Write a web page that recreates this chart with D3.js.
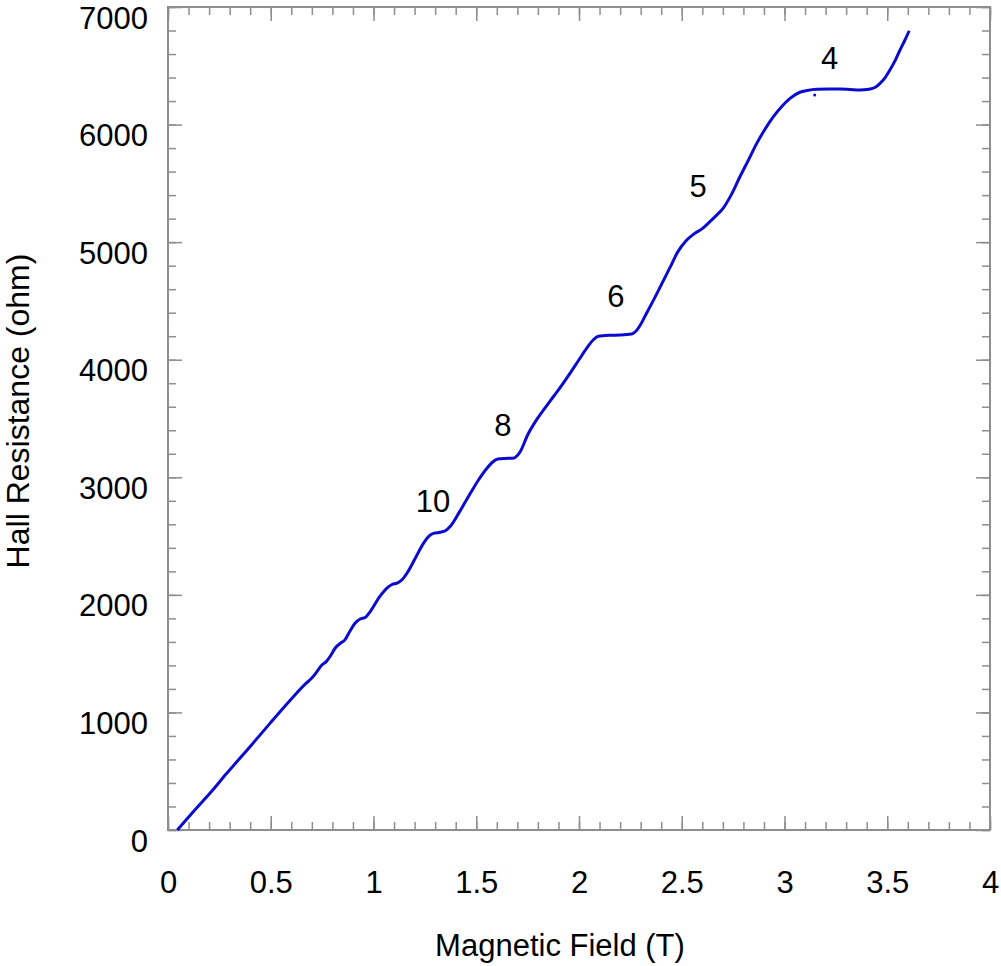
<!DOCTYPE html>
<html>
<head>
<meta charset="utf-8">
<script src="https://cdn.jsdelivr.net/npm/d3@7"></script>
<style>
  html, body { margin: 0; padding: 0; background: #fff; }
  svg { display: block; font-family: "Liberation Sans", Arial, sans-serif; }
</style>
</head>
<body>
<svg width="1001" height="966"></svg>
<script>
// Hall resistance vs magnetic field
const field = [
  0.045, 0.123, 0.204, 0.286, 0.399, 0.496, 0.610, 0.670, 0.700, 0.724,
  0.750, 0.770, 0.790, 0.815, 0.840, 0.860, 0.885, 0.910, 0.935, 0.960,
  0.985, 1.030, 1.064, 1.090, 1.115, 1.140, 1.165, 1.200, 1.243, 1.270,
  1.295, 1.324, 1.350, 1.375, 1.420, 1.470, 1.510, 1.551, 1.580, 1.605,
  1.640, 1.680, 1.700, 1.713, 1.750, 1.794, 1.835, 1.875, 1.915, 1.956,
  2.000, 2.037, 2.070, 2.094, 2.150, 2.200, 2.256, 2.275, 2.300, 2.330,
  2.362, 2.410, 2.443, 2.480, 2.520, 2.560, 2.600, 2.637, 2.670, 2.702,
  2.740, 2.783, 2.825, 2.865, 2.905, 2.946, 2.990, 3.027, 3.075, 3.110,
  3.157, 3.220, 3.270, 3.320, 3.367, 3.410, 3.440, 3.465, 3.490, 3.513,
  3.540, 3.562, 3.585, 3.607
];
const resistance = [
  0, 156, 312, 482, 708, 907, 1134, 1245, 1292, 1345,
  1405, 1432, 1480, 1550, 1590, 1615, 1690, 1758, 1795, 1808,
  1860, 1985, 2056, 2088, 2100, 2130, 2190, 2300, 2438, 2500,
  2525, 2532, 2545, 2585, 2710, 2860, 2975, 3075, 3130, 3155,
  3160, 3162, 3185, 3215, 3360, 3490, 3590, 3685, 3780, 3884,
  4000, 4097, 4170, 4200, 4208, 4210, 4218, 4240, 4300, 4400,
  4505, 4670, 4785, 4915, 5010, 5070, 5115, 5174, 5230, 5290,
  5400, 5556, 5700, 5840, 5960, 6067, 6160, 6223, 6275, 6290,
  6300, 6302, 6302, 6298, 6294, 6300, 6315, 6351, 6400, 6464,
  6550, 6634, 6715, 6798
];
// one stray point below the 4 plateau
const strayField = [3.147];
const strayResistance = [6251];

// filling factor labels
const nuLabels = ["10", "8", "6", "5", "4"];
const nuField = [1.29, 1.63, 2.18, 2.58, 3.22];
const nuResistance = [2705, 3355, 4448, 5384, 6472];

const xTicks = [0, 0.5, 1, 1.5, 2, 2.5, 3, 3.5, 4];
const yTicks = [0, 1000, 2000, 3000, 4000, 5000, 6000, 7000];

const svg = d3.select('svg');
const plotL = 168, plotR = 990, plotT = 7, plotB = 830;
const axisColor = '#8e8e8e';

const x = d3.scaleLinear().domain([0, 4]).range([plotL, plotR]);
const y = d3.scaleLinear().domain([0, 7000]).range([plotB, plotT]);

const xMinor = d3.range(0, 41).map((i) => i / 10);
const yMinor = d3.range(0, 36).map((i) => i * 200);

// minor ticks, all four sides, pointing inward
function minor(axis, tr, vals) {
  const g = svg.append('g').attr('transform', tr)
    .call(axis.tickValues(vals).tickSize(-8).tickFormat(''));
  g.select('.domain').remove();
  g.selectAll('line').attr('stroke', axisColor).attr('stroke-width', 1.5);
  return g;
}
minor(d3.axisBottom(x), `translate(0,${plotB})`, xMinor);
minor(d3.axisTop(x), `translate(0,${plotT})`, xMinor);
minor(d3.axisLeft(y), `translate(${plotL},0)`, yMinor);
minor(d3.axisRight(y), `translate(${plotR},0)`, yMinor);

// major ticks
const gx = svg.append('g').attr('transform', `translate(0,${plotB})`)
  .call(d3.axisBottom(x).tickValues(xTicks).tickSize(-14).tickFormat(d3.format('')));
const gy = svg.append('g').attr('transform', `translate(${plotL},0)`)
  .call(d3.axisLeft(y).tickValues(yTicks).tickSize(-14).tickFormat(d3.format('d')));
const gt = svg.append('g').attr('transform', `translate(0,${plotT})`)
  .call(d3.axisTop(x).tickValues(xTicks).tickSize(-14).tickFormat(''));
const gr = svg.append('g').attr('transform', `translate(${plotR},0)`)
  .call(d3.axisRight(y).tickValues(yTicks).tickSize(-14).tickFormat(''));

[gx, gy, gt, gr].forEach((g) => {
  g.select('.domain').remove();
  g.selectAll('line').attr('stroke', axisColor).attr('stroke-width', 1.5);
});

gx.selectAll('text')
  .attr('y', 63).attr('dy', null)
  .attr('font-size', 31).attr('fill', '#000')
  .attr('font-family', '"Liberation Sans", Arial, sans-serif');
gy.selectAll('text')
  .attr('x', -20).attr('y', 21).attr('dy', null)
  .attr('font-size', 31).attr('fill', '#000')
  .attr('font-family', '"Liberation Sans", Arial, sans-serif');

// frame
svg.append('rect')
  .attr('x', plotL).attr('y', plotT)
  .attr('width', plotR - plotL).attr('height', plotB - plotT)
  .attr('fill', 'none').attr('stroke', axisColor).attr('stroke-width', 2);

// data curve
const pts = field.map((f, i) => [f, resistance[i]]);
const line = d3.line()
  .x((d) => x(d[0]))
  .y((d) => y(d[1]))
  .curve(d3.curveMonotoneX);

svg.append('path')
  .datum(pts)
  .attr('d', line)
  .attr('fill', 'none')
  .attr('stroke', '#0b0bcf')
  .attr('stroke-width', 3)
  .attr('stroke-linejoin', 'round');

svg.selectAll('circle.stray')
  .data(strayField.map((f, i) => [f, strayResistance[i]]))
  .enter()
  .append('circle')
  .attr('class', 'stray')
  .attr('cx', (d) => x(d[0]))
  .attr('cy', (d) => y(d[1]))
  .attr('r', 1.5)
  .attr('fill', '#0b0bcf');

// filling factor annotations
svg.selectAll('text.nu')
  .data(nuLabels)
  .enter()
  .append('text')
  .attr('class', 'nu')
  .attr('x', (d, i) => x(nuField[i]))
  .attr('y', (d, i) => y(nuResistance[i]))
  .attr('text-anchor', 'middle')
  .attr('font-size', 31)
  .text((d) => d);

// axis titles
svg.append('text')
  .attr('x', 560).attr('y', 956)
  .attr('text-anchor', 'middle')
  .attr('font-size', 31)
  .text('Magnetic Field (T)');

svg.append('text')
  .attr('transform', 'translate(29,411) rotate(-90)')
  .attr('text-anchor', 'middle')
  .attr('font-size', 32)
  .text('Hall Resistance (ohm)');
</script>
</body>
</html>
